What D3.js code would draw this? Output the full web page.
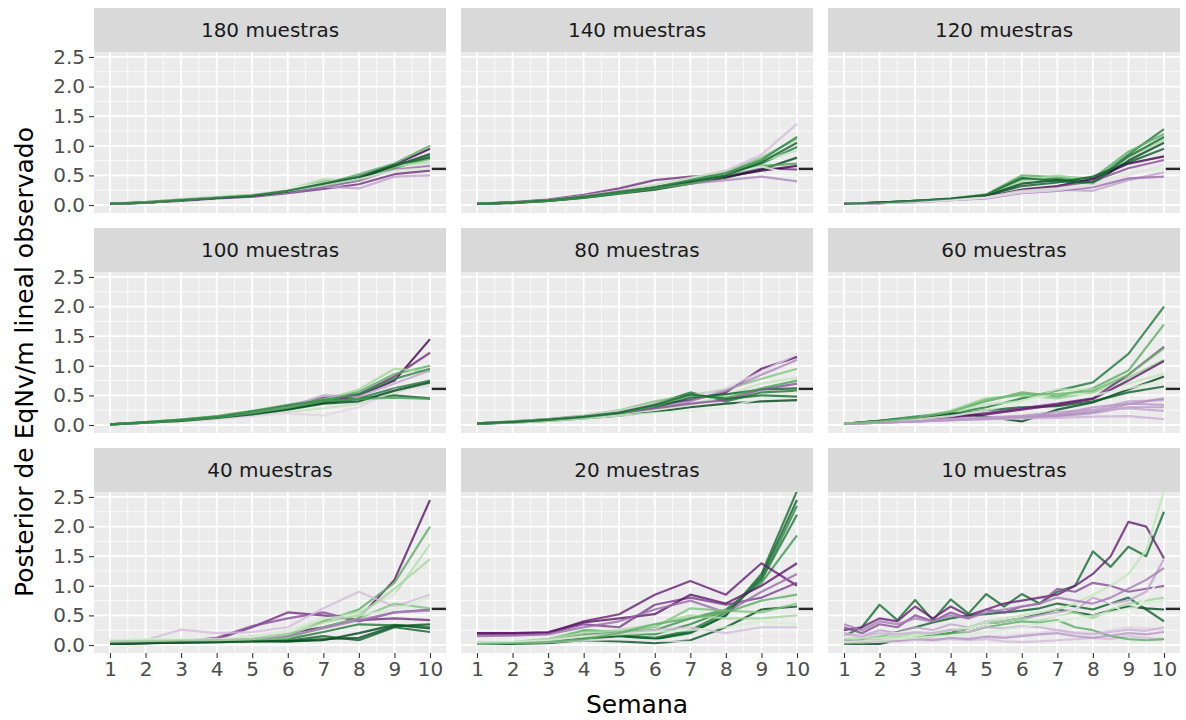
<!DOCTYPE html>
<html>
<head>
<meta charset="utf-8">
<script src="https://cdn.jsdelivr.net/npm/d3@7"></script>
<style>
  body { margin: 0; background: #fff; }
  svg { display: block; font-family: "DejaVu Sans", sans-serif; }
</style>
</head>
<body>
<svg id="chart" width="1186" height="720"></svg>
<script>
// Data

const semanas = [1, 2, 3, 4, 5, 6, 7, 8, 9, 10];
const semanasMedias = [1, 1.5, 2, 2.5, 3, 3.5, 4, 4.5, 5, 5.5, 6, 6.5, 7, 7.5, 8, 8.5, 9, 9.5, 10];
const yTicks = [0, 0.5, 1, 1.5, 2, 2.5];
const paneles = ["180 muestras", "140 muestras", "120 muestras",
                 "100 muestras", "80 muestras", "60 muestras",
                 "40 muestras", "20 muestras", "10 muestras"];
const observado = 0.61;

// each line: g = colour level (-1 purple .. 1 green), y = posterior by week
const m180 = [
  { g: 0.8, y: [0.02, 0.04, 0.08, 0.12, 0.15, 0.22, 0.31, 0.42, 0.62, 0.82] },
  { g: 0.55, y: [0.02, 0.05, 0.09, 0.13, 0.17, 0.25, 0.40, 0.46, 0.63, 0.78] },
  { g: 0.35, y: [0.03, 0.05, 0.10, 0.14, 0.18, 0.26, 0.44, 0.40, 0.66, 0.72] },
  { g: -0.8, y: [0.02, 0.04, 0.07, 0.11, 0.14, 0.20, 0.27, 0.35, 0.52, 0.58] },
  { g: -0.4, y: [0.02, 0.05, 0.08, 0.12, 0.16, 0.22, 0.31, 0.28, 0.48, 0.50] },
  { g: -0.05, y: [0.02, 0.04, 0.09, 0.14, 0.19, 0.27, 0.37, 0.50, 0.74, 1.18] },
  { g: -1, y: [0.02, 0.04, 0.08, 0.12, 0.16, 0.23, 0.33, 0.46, 0.68, 0.95] },
  { g: 0.6, y: [0.02, 0.05, 0.09, 0.13, 0.17, 0.24, 0.35, 0.52, 0.70, 1.00] },
  { g: -0.6, y: [0.02, 0.04, 0.08, 0.12, 0.15, 0.21, 0.30, 0.41, 0.60, 0.66] },
  { g: 1, y: [0.02, 0.04, 0.08, 0.12, 0.16, 0.23, 0.34, 0.45, 0.66, 0.86] },
  { g: 0.2, y: [0.02, 0.04, 0.08, 0.13, 0.17, 0.24, 0.33, 0.44, 0.58, 0.62] },
  { g: 0.85, y: [0.02, 0.04, 0.08, 0.12, 0.16, 0.24, 0.36, 0.48, 0.68, 0.80] },
];

const m140 = [
  { g: -0.8, y: [0.02, 0.05, 0.09, 0.17, 0.28, 0.42, 0.48, 0.50, 0.62, 0.60] },
  { g: -0.3, y: [0.02, 0.04, 0.08, 0.15, 0.24, 0.33, 0.45, 0.58, 0.85, 1.37] },
  { g: 0.8, y: [0.02, 0.04, 0.08, 0.14, 0.22, 0.30, 0.40, 0.52, 0.70, 0.98] },
  { g: 0.5, y: [0.02, 0.04, 0.07, 0.13, 0.21, 0.28, 0.38, 0.55, 0.80, 1.12] },
  { g: 0.3, y: [0.02, 0.04, 0.08, 0.15, 0.24, 0.34, 0.46, 0.56, 0.74, 0.92] },
  { g: 1, y: [0.02, 0.03, 0.07, 0.12, 0.19, 0.26, 0.36, 0.46, 0.60, 0.80] },
  { g: -0.5, y: [0.02, 0.04, 0.08, 0.15, 0.23, 0.30, 0.36, 0.42, 0.48, 0.40] },
  { g: -1, y: [0.02, 0.04, 0.08, 0.14, 0.22, 0.31, 0.40, 0.48, 0.58, 0.66] },
  { g: 0.65, y: [0.02, 0.04, 0.07, 0.13, 0.20, 0.28, 0.36, 0.50, 0.66, 0.70] },
  { g: 0.1, y: [0.02, 0.04, 0.08, 0.14, 0.22, 0.32, 0.42, 0.52, 0.65, 0.50] },
  { g: 0.9, y: [0.02, 0.04, 0.08, 0.14, 0.22, 0.30, 0.40, 0.50, 0.72, 1.05] },
  { g: 0.75, y: [0.02, 0.04, 0.07, 0.13, 0.21, 0.30, 0.42, 0.54, 0.76, 1.15] },
];

const m120 = [
  { g: 0.8, y: [0.02, 0.04, 0.07, 0.10, 0.16, 0.44, 0.44, 0.40, 0.85, 1.28] },
  { g: 0.6, y: [0.02, 0.04, 0.07, 0.11, 0.18, 0.50, 0.47, 0.45, 0.90, 1.20] },
  { g: 0.4, y: [0.02, 0.04, 0.07, 0.10, 0.17, 0.40, 0.50, 0.42, 0.80, 1.10] },
  { g: 1, y: [0.02, 0.04, 0.06, 0.10, 0.15, 0.36, 0.42, 0.36, 0.75, 1.05] },
  { g: 0.9, y: [0.02, 0.04, 0.07, 0.10, 0.16, 0.32, 0.38, 0.48, 0.72, 0.95] },
  { g: -1, y: [0.02, 0.03, 0.06, 0.09, 0.14, 0.26, 0.32, 0.44, 0.70, 0.82] },
  { g: -0.7, y: [0.02, 0.03, 0.06, 0.09, 0.13, 0.24, 0.30, 0.40, 0.62, 0.76] },
  { g: -0.4, y: [0.02, 0.03, 0.05, 0.08, 0.12, 0.22, 0.26, 0.24, 0.42, 0.55] },
  { g: -0.6, y: [0.02, 0.03, 0.05, 0.08, 0.11, 0.20, 0.24, 0.30, 0.45, 0.48] },
  { g: 0.2, y: [0.02, 0.03, 0.06, 0.09, 0.13, 0.24, 0.28, 0.36, 0.55, 0.62] },
  { g: -0.15, y: [0.02, 0.03, 0.05, 0.08, 0.12, 0.21, 0.25, 0.33, 0.50, 0.68] },
  { g: 0.85, y: [0.02, 0.04, 0.07, 0.11, 0.17, 0.46, 0.40, 0.38, 0.82, 1.15] },
];

const m100 = [
  { g: -1, y: [0.01, 0.04, 0.08, 0.14, 0.22, 0.30, 0.38, 0.50, 0.75, 1.45] },
  { g: -0.8, y: [0.01, 0.04, 0.08, 0.13, 0.21, 0.32, 0.46, 0.52, 0.82, 1.22] },
  { g: 0.8, y: [0.01, 0.04, 0.08, 0.13, 0.20, 0.28, 0.38, 0.45, 0.62, 0.75] },
  { g: 0.6, y: [0.01, 0.05, 0.09, 0.15, 0.24, 0.34, 0.44, 0.56, 0.86, 1.00] },
  { g: 0.4, y: [0.01, 0.05, 0.09, 0.14, 0.22, 0.30, 0.42, 0.60, 0.95, 0.90] },
  { g: 0.9, y: [0.01, 0.04, 0.07, 0.12, 0.19, 0.27, 0.38, 0.44, 0.50, 0.45] },
  { g: -0.4, y: [0.01, 0.04, 0.08, 0.13, 0.20, 0.30, 0.50, 0.48, 0.70, 0.92] },
  { g: 0.3, y: [0.01, 0.04, 0.07, 0.11, 0.16, 0.22, 0.28, 0.36, 0.55, 0.70] },
  { g: -0.2, y: [0.01, 0.03, 0.06, 0.10, 0.15, 0.20, 0.16, 0.30, 0.60, 0.66] },
  { g: 1, y: [0.01, 0.04, 0.07, 0.12, 0.18, 0.26, 0.36, 0.40, 0.58, 0.72] },
  { g: 0.65, y: [0.01, 0.04, 0.08, 0.13, 0.20, 0.29, 0.40, 0.44, 0.46, 0.44] },
  { g: 0.75, y: [0.01, 0.05, 0.09, 0.14, 0.23, 0.33, 0.42, 0.52, 0.78, 0.95] },
];

const m80 = [
  { g: -0.9, y: [0.03, 0.05, 0.08, 0.14, 0.22, 0.34, 0.42, 0.55, 0.95, 1.15] },
  { g: 0.8, y: [0.03, 0.06, 0.10, 0.15, 0.22, 0.36, 0.55, 0.40, 0.55, 0.58] },
  { g: 0.5, y: [0.03, 0.06, 0.10, 0.16, 0.25, 0.40, 0.50, 0.60, 0.78, 0.95] },
  { g: 1, y: [0.02, 0.04, 0.07, 0.11, 0.16, 0.22, 0.30, 0.36, 0.40, 0.42] },
  { g: -0.5, y: [0.03, 0.05, 0.09, 0.15, 0.20, 0.30, 0.40, 0.58, 0.85, 1.10] },
  { g: 0.3, y: [0.03, 0.05, 0.08, 0.13, 0.19, 0.26, 0.34, 0.50, 0.70, 0.80] },
  { g: -0.2, y: [0.03, 0.05, 0.09, 0.15, 0.24, 0.36, 0.48, 0.62, 0.90, 1.20] },
  { g: 0.9, y: [0.02, 0.05, 0.08, 0.13, 0.20, 0.30, 0.46, 0.52, 0.60, 0.62] },
  { g: -0.7, y: [0.03, 0.05, 0.08, 0.13, 0.20, 0.28, 0.36, 0.42, 0.60, 0.70] },
  { g: 0.15, y: [0.03, 0.04, 0.07, 0.11, 0.16, 0.20, 0.24, 0.30, 0.45, 0.55] },
  { g: 0.65, y: [0.02, 0.05, 0.08, 0.13, 0.20, 0.32, 0.50, 0.46, 0.62, 0.75] },
  { g: 0.85, y: [0.03, 0.05, 0.09, 0.14, 0.21, 0.34, 0.52, 0.44, 0.50, 0.48] },
];

const m60 = [
  { g: 0.8, y: [0.02, 0.07, 0.14, 0.20, 0.30, 0.45, 0.58, 0.72, 1.20, 2.00] },
  { g: 0.6, y: [0.02, 0.07, 0.13, 0.22, 0.40, 0.55, 0.48, 0.62, 0.92, 1.70] },
  { g: 0.45, y: [0.02, 0.06, 0.12, 0.24, 0.45, 0.50, 0.45, 0.55, 0.80, 1.10] },
  { g: 0.3, y: [0.02, 0.06, 0.12, 0.20, 0.35, 0.40, 0.60, 0.60, 0.70, 0.87] },
  { g: 1, y: [0.02, 0.07, 0.12, 0.20, 0.14, 0.06, 0.26, 0.38, 0.60, 0.82] },
  { g: 0.9, y: [0.02, 0.06, 0.12, 0.18, 0.25, 0.30, 0.32, 0.40, 0.55, 0.65] },
  { g: -0.8, y: [0.02, 0.05, 0.09, 0.14, 0.20, 0.28, 0.36, 0.45, 0.85, 1.32] },
  { g: -0.9, y: [0.02, 0.05, 0.09, 0.13, 0.18, 0.26, 0.34, 0.44, 0.75, 1.08] },
  { g: -0.4, y: [0.02, 0.04, 0.07, 0.10, 0.13, 0.15, 0.18, 0.25, 0.40, 0.42] },
  { g: -0.45, y: [0.02, 0.04, 0.06, 0.08, 0.10, 0.12, 0.14, 0.20, 0.30, 0.30] },
  { g: -0.35, y: [0.02, 0.04, 0.06, 0.08, 0.10, 0.11, 0.12, 0.14, 0.15, 0.10] },
  { g: -0.5, y: [0.02, 0.04, 0.06, 0.09, 0.11, 0.14, 0.16, 0.22, 0.35, 0.45] },
  { g: 0.15, y: [0.02, 0.05, 0.09, 0.15, 0.25, 0.38, 0.55, 0.50, 0.62, 0.75] },
  { g: -0.4, y: [0.02, 0.04, 0.06, 0.09, 0.12, 0.16, 0.22, 0.26, 0.28, 0.24] },
  { g: -0.45, y: [0.02, 0.04, 0.06, 0.08, 0.11, 0.14, 0.18, 0.30, 0.36, 0.34] },
  { g: 0.55, y: [0.02, 0.06, 0.12, 0.22, 0.42, 0.52, 0.52, 0.58, 0.85, 1.30] },
];

const m40 = [
  { g: -0.9, y: [0.02, 0.04, 0.06, 0.08, 0.14, 0.20, 0.30, 0.45, 1.10, 2.45] },
  { g: 0.6, y: [0.05, 0.06, 0.07, 0.08, 0.10, 0.15, 0.40, 0.60, 1.05, 2.00] },
  { g: 0.35, y: [0.08, 0.08, 0.08, 0.08, 0.12, 0.20, 0.45, 0.55, 0.85, 1.70] },
  { g: -0.05, y: [0.05, 0.06, 0.08, 0.10, 0.14, 0.22, 0.35, 0.50, 0.85, 1.25] },
  { g: -0.8, y: [0.02, 0.04, 0.06, 0.10, 0.30, 0.55, 0.50, 0.42, 0.45, 0.42] },
  { g: -0.7, y: [0.02, 0.04, 0.06, 0.12, 0.32, 0.45, 0.55, 0.40, 0.55, 0.60] },
  { g: -0.3, y: [0.05, 0.08, 0.26, 0.20, 0.22, 0.30, 0.62, 0.90, 0.65, 0.85] },
  { g: 1, y: [0.02, 0.03, 0.05, 0.06, 0.08, 0.06, 0.08, 0.20, 0.34, 0.28] },
  { g: 0.9, y: [0.02, 0.03, 0.04, 0.05, 0.06, 0.07, 0.15, 0.08, 0.30, 0.22] },
  { g: 0.8, y: [0.02, 0.03, 0.05, 0.06, 0.08, 0.10, 0.22, 0.35, 0.33, 0.30] },
  { g: 0.5, y: [0.05, 0.06, 0.07, 0.07, 0.08, 0.12, 0.30, 0.45, 0.70, 0.62] },
  { g: 0.2, y: [0.08, 0.10, 0.10, 0.10, 0.14, 0.25, 0.45, 0.50, 0.60, 0.80] },
  { g: -0.55, y: [0.03, 0.05, 0.06, 0.08, 0.10, 0.15, 0.28, 0.42, 0.55, 0.58] },
  { g: 0.95, y: [0.02, 0.03, 0.04, 0.05, 0.06, 0.06, 0.10, 0.12, 0.32, 0.35] },
  { g: 0.4, y: [0.06, 0.07, 0.08, 0.08, 0.10, 0.18, 0.38, 0.50, 0.95, 1.45] },
];

const m20 = [
  { g: 0.85, y: [0.02, 0.03, 0.06, 0.10, 0.15, 0.10, 0.20, 0.50, 1.20, 2.60] },
  { g: 0.8, y: [0.02, 0.03, 0.06, 0.12, 0.18, 0.12, 0.25, 0.55, 1.10, 2.20] },
  { g: 0.7, y: [0.02, 0.03, 0.07, 0.25, 0.22, 0.25, 0.45, 0.60, 1.05, 1.85] },
  { g: 0.9, y: [0.02, 0.03, 0.06, 0.12, 0.16, 0.10, 0.22, 0.50, 1.15, 2.45] },
  { g: 0.75, y: [0.02, 0.03, 0.07, 0.18, 0.20, 0.18, 0.35, 0.58, 1.10, 2.35] },
  { g: 0.95, y: [0.02, 0.02, 0.03, 0.08, 0.06, 0.03, 0.08, 0.30, 0.60, 0.65] },
  { g: -0.85, y: [0.20, 0.20, 0.20, 0.40, 0.52, 0.85, 1.08, 0.85, 1.38, 1.00] },
  { g: -0.75, y: [0.18, 0.18, 0.20, 0.35, 0.30, 0.68, 0.80, 0.68, 0.80, 1.05] },
  { g: -0.9, y: [0.20, 0.20, 0.22, 0.38, 0.45, 0.52, 0.85, 0.70, 1.00, 1.38] },
  { g: -0.6, y: [0.15, 0.16, 0.18, 0.30, 0.40, 0.60, 0.75, 0.55, 0.90, 1.20] },
  { g: 0.5, y: [0.03, 0.05, 0.10, 0.25, 0.22, 0.30, 0.62, 0.58, 0.55, 0.70] },
  { g: 0.4, y: [0.03, 0.05, 0.10, 0.20, 0.25, 0.35, 0.50, 0.45, 0.45, 0.50] },
  { g: -0.3, y: [0.05, 0.05, 0.08, 0.15, 0.20, 0.25, 0.30, 0.20, 0.30, 0.30] },
  { g: -0.1, y: [0.02, 0.04, 0.05, 0.08, 0.10, 0.08, 0.05, 0.05, 0.15, 0.14] },
  { g: 0.2, y: [0.04, 0.05, 0.08, 0.14, 0.18, 0.22, 0.25, 0.30, 0.40, 0.35] },
  { g: 0.6, y: [0.02, 0.03, 0.05, 0.10, 0.20, 0.35, 0.45, 0.55, 0.75, 0.85] },
];

// 10 muestras has half-week points (the zig-zag)
const m10 = [
  { g: 0.85, y: [0.15, 0.30, 0.68, 0.42, 0.76, 0.42, 0.77, 0.53, 0.86, 0.65, 0.86, 0.70, 0.90, 1.00, 1.58, 1.32, 1.66, 1.50, 2.25] },
  { g: -0.85, y: [0.25, 0.30, 0.45, 0.40, 0.65, 0.45, 0.65, 0.50, 0.60, 0.70, 0.75, 0.80, 0.85, 1.00, 1.20, 1.50, 2.08, 2.00, 1.46] },
  { g: 1, y: [0.02, 0.02, 0.02, 0.08, 0.12, 0.16, 0.20, 0.28, 0.35, 0.40, 0.45, 0.52, 0.60, 0.55, 0.50, 0.58, 0.65, 0.62, 0.60] },
  { g: 0.9, y: [0.05, 0.10, 0.15, 0.22, 0.30, 0.38, 0.45, 0.50, 0.52, 0.55, 0.58, 0.62, 0.70, 0.65, 0.60, 0.70, 0.80, 0.60, 0.40] },
  { g: -0.7, y: [0.30, 0.20, 0.35, 0.30, 0.50, 0.40, 0.55, 0.45, 0.60, 0.55, 0.65, 0.70, 0.95, 0.90, 1.05, 1.00, 0.90, 0.95, 1.00] },
  { g: -0.4, y: [0.20, 0.15, 0.25, 0.20, 0.30, 0.25, 0.35, 0.30, 0.40, 0.40, 0.45, 0.50, 0.55, 0.60, 0.80, 0.70, 0.75, 0.90, 1.45] },
  { g: -0.3, y: [0.10, 0.08, 0.10, 0.08, 0.12, 0.10, 0.10, 0.08, 0.10, 0.06, 0.05, 0.06, 0.08, 0.10, 0.12, 0.10, 0.15, 0.12, 0.10] },
  { g: -0.2, y: [0.05, 0.04, 0.06, 0.05, 0.08, 0.07, 0.10, 0.12, 0.15, 0.14, 0.18, 0.20, 0.25, 0.22, 0.20, 0.25, 0.30, 0.28, 0.25] },
  { g: 0.4, y: [0.10, 0.12, 0.15, 0.14, 0.20, 0.18, 0.25, 0.28, 0.35, 0.40, 0.45, 0.42, 0.50, 0.55, 0.45, 0.60, 0.70, 0.75, 0.80] },
  { g: 0.05, y: [0.15, 0.14, 0.18, 0.20, 0.25, 0.22, 0.30, 0.28, 0.35, 0.32, 0.40, 0.45, 0.50, 0.60, 0.90, 0.70, 0.50, 0.80, 1.20] },
  { g: 0.6, y: [0.02, 0.05, 0.08, 0.10, 0.12, 0.15, 0.20, 0.22, 0.30, 0.35, 0.40, 0.38, 0.42, 0.30, 0.25, 0.15, 0.10, 0.08, 0.10] },
  { g: 0.3, y: [0.10, 0.12, 0.12, 0.10, 0.15, 0.20, 0.25, 0.30, 0.40, 0.45, 0.50, 0.55, 0.60, 0.70, 0.85, 1.00, 1.20, 1.60, 2.60] },
  { g: -0.55, y: [0.35, 0.25, 0.40, 0.35, 0.45, 0.40, 0.50, 0.45, 0.55, 0.60, 0.65, 0.70, 0.80, 0.75, 0.70, 0.80, 0.95, 1.10, 1.30] },
  { g: -0.45, y: [0.08, 0.06, 0.08, 0.07, 0.10, 0.08, 0.12, 0.10, 0.14, 0.12, 0.15, 0.18, 0.20, 0.15, 0.12, 0.16, 0.20, 0.18, 0.22] },
  { g: -0.35, y: [0.18, 0.14, 0.20, 0.18, 0.22, 0.20, 0.26, 0.22, 0.30, 0.28, 0.32, 0.30, 0.25, 0.20, 0.18, 0.22, 0.26, 0.24, 0.30] },
  { g: 0.2, y: [0.05, 0.06, 0.08, 0.10, 0.12, 0.14, 0.16, 0.18, 0.22, 0.26, 0.30, 0.35, 0.40, 0.45, 0.50, 0.55, 0.62, 0.70, 0.75] },
];

const series = [m180, m140, m120, m100, m80, m60, m40, m20, m10];
const ejesX = [semanas, semanas, semanas, semanas, semanas, semanas, semanas, semanas, semanasMedias];

// Layout

const colX = [94, 461, 828];
const rowY = [8, 228, 448];
const stripH = 44;
const panelW = 352;
const panelH = 161;

const svg = d3.select("#chart");

const x = d3.scaleLinear([0.55, 10.45], [0, panelW]);
const y = d3.scaleLinear([-0.135, 2.584], [panelH, 0]);
const color = d3.scaleDiverging([-1, 0, 1], d3.interpolatePRGn);

const minorX = [1.5, 2.5, 3.5, 4.5, 5.5, 6.5, 7.5, 8.5, 9.5];
const minorY = [0.25, 0.75, 1.25, 1.75, 2.25];

paneles.forEach((name, i) => {
  const col = i % 3;
  const row = Math.floor(i / 3);
  const g = svg.append("g")
    .attr("transform", `translate(${colX[col]},${rowY[row]})`);

  // strip
  g.append("rect")
    .attr("width", panelW)
    .attr("height", stripH)
    .attr("fill", "#D9D9D9");
  g.append("text")
    .attr("x", panelW / 2)
    .attr("y", stripH / 2)
    .attr("dy", "0.36em")
    .attr("text-anchor", "middle")
    .style("font-size", "20px")
    .style("fill", "#1A1A1A")
    .text(name);

  const p = g.append("g").attr("transform", `translate(0,${stripH})`);

  p.append("rect")
    .attr("width", panelW)
    .attr("height", panelH)
    .attr("fill", "#EBEBEB");

  // grid
  p.selectAll(".minx").data(minorX).enter().append("line")
    .attr("x1", (d) => x(d)).attr("x2", (d) => x(d))
    .attr("y1", 0).attr("y2", panelH)
    .attr("stroke", "#fff").attr("stroke-width", 0.8);
  p.selectAll(".miny").data(minorY).enter().append("line")
    .attr("x1", 0).attr("x2", panelW)
    .attr("y1", (d) => y(d)).attr("y2", (d) => y(d))
    .attr("stroke", "#fff").attr("stroke-width", 0.8);
  p.selectAll(".majx").data(semanas).enter().append("line")
    .attr("x1", (d) => x(d)).attr("x2", (d) => x(d))
    .attr("y1", 0).attr("y2", panelH)
    .attr("stroke", "#fff").attr("stroke-width", 1.8);
  p.selectAll(".majy").data(yTicks).enter().append("line")
    .attr("x1", 0).attr("x2", panelW)
    .attr("y1", (d) => y(d)).attr("y2", (d) => y(d))
    .attr("stroke", "#fff").attr("stroke-width", 1.8);

  // lines
  const clipId = "clip" + i;
  p.append("clipPath").attr("id", clipId)
    .append("rect").attr("width", panelW).attr("height", panelH);

  const xs = ejesX[i];
  const line = d3.line()
    .x((d, k) => x(xs[k]))
    .y((d) => y(d));

  p.append("g")
    .attr("clip-path", `url(#${clipId})`)
    .selectAll("path")
    .data(series[i])
    .enter()
    .append("path")
    .attr("d", (d) => line(d.y))
    .attr("fill", "none")
    .attr("stroke", (d) => color(d.g))
    .attr("stroke-opacity", 0.8)
    .attr("stroke-width", 2.2)
    .attr("stroke-linejoin", "round");

  // observed value marker
  p.append("line")
    .attr("x1", x(10.05)).attr("x2", x(10.45))
    .attr("y1", y(observado)).attr("y2", y(observado))
    .attr("stroke", "#262626")
    .attr("stroke-width", 2.4);

  // y axis on left column
  if (col === 0) {
    const ax = p.append("g")
      .call(d3.axisLeft(y).tickValues(yTicks).tickFormat(d3.format(".1f"))
        .tickSize(5).tickPadding(4));
    ax.select(".domain").remove();
    ax.selectAll("line").attr("stroke", "#333").attr("stroke-width", 1.1);
    ax.selectAll("text")
      .style("font-size", "20px")
      .style("fill", "#4D4D4D")
      .style("font-family", "DejaVu Sans, sans-serif");
  }

  // x axis on bottom row
  if (row === 2) {
    const ax = p.append("g")
      .attr("transform", `translate(0,${panelH})`)
      .call(d3.axisBottom(x).tickValues(semanas).tickFormat(d3.format("d"))
        .tickSize(5).tickPadding(4));
    ax.select(".domain").remove();
    ax.selectAll("line").attr("stroke", "#333").attr("stroke-width", 1.1);
    ax.selectAll("text")
      .style("font-size", "20px")
      .style("fill", "#4D4D4D")
      .style("font-family", "DejaVu Sans, sans-serif");
  }
});

// axis titles
svg.append("text")
  .attr("x", (colX[0] + colX[2] + panelW) / 2)
  .attr("y", 713)
  .attr("text-anchor", "middle")
  .style("font-size", "25px")
  .style("fill", "#000")
  .text("Semana");

svg.append("text")
  .attr("transform", "translate(33,362) rotate(-90)")
  .attr("text-anchor", "middle")
  .style("font-size", "25px")
  .style("fill", "#000")
  .text("Posterior de EqNv/m lineal observado");
</script>
</body>
</html>
